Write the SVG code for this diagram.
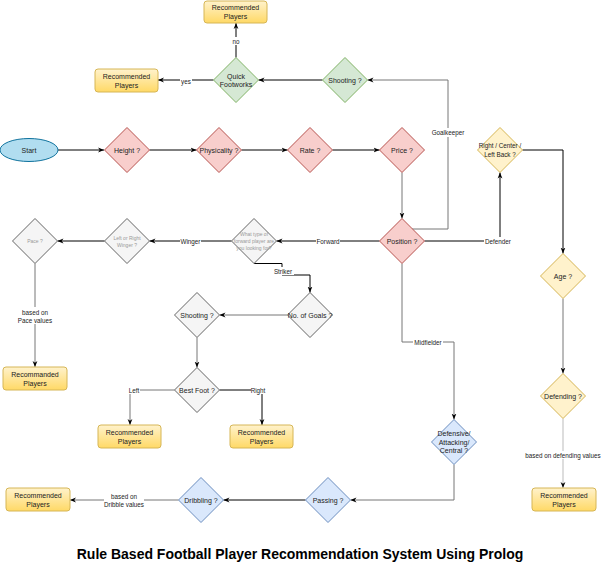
<svg xmlns="http://www.w3.org/2000/svg" width="602" height="572" viewBox="0 0 602 572">
<defs>
<linearGradient id="gy" x1="0" y1="0" x2="0" y2="1"><stop offset="0" stop-color="#fff2cc"/><stop offset="1" stop-color="#ffd966"/></linearGradient>
<marker id="ar" viewBox="0 0 10 10" refX="10" refY="5" markerWidth="6" markerHeight="6" markerUnits="userSpaceOnUse" orient="auto"><path d="M0,1 L10,5 L0,9 L3,5 z" fill="#000"/></marker>
<style>
text{font-family:"Liberation Sans",Arial,sans-serif;text-anchor:middle;dominant-baseline:central;fill:#222}
.n{font-size:7px}
.s{font-size:5px;fill:#999}
.l{font-size:6.3px}
.e{fill:none;stroke:#000;stroke-width:1;marker-end:url(#ar)}
.g{stroke:#777}
.lg{stroke:#bbb}
.red{fill:#f8cecc;stroke:#b85450}
.grn{fill:#d5e8d4;stroke:#82b366}
.yel{fill:#fff2cc;stroke:#d6b656}
.blu{fill:#dae8fc;stroke:#6c8ebf}
.gry{fill:#f5f5f5;stroke:#666}
.box{fill:url(#gy);stroke:#d6b656}
.bg{fill:#fff}
.t{font-size:14px;font-weight:bold;fill:#000;dominant-baseline:auto}
</style>
</defs>
<g id="connectors">
<path class="e" d="M58,150 L104,150"/>
<path class="e" d="M149.5,150 L196.5,150"/>
<path class="e" d="M241.5,150 L287.5,150"/>
<path class="e" d="M332.5,150 L379.5,150"/>
<path class="e g" d="M402,172.5 L402,218.5"/>
<path class="e g" d="M412,229 L448,229 L448,80 L367.5,80"/>
<path class="e" d="M322.5,80 L258.5,80"/>
<path class="e" d="M213.5,80 L158,80"/>
<path class="e" d="M236,57.5 L236,23"/>
<path class="e" d="M379.5,241 L276.5,241"/>
<path class="e" d="M231.5,241 L149.5,241"/>
<path class="e" d="M104.5,241 L57.5,241"/>
<path class="e g" d="M35,263.5 L35,367"/>
<path class="e" d="M254,263.5 L282,263.5 L282,275 L310,275 L310,292.5"/>
<path class="e g" d="M287.5,315 L219.5,315"/>
<path class="e g" d="M197,337.5 L197,367.5"/>
<path class="e g" d="M174.5,390 L130,390 L130,425"/>
<path class="e" d="M219.5,390 L262,390 L262,425"/>
<path class="e" d="M424.5,241 L500,241 L500,172.5"/>
<path class="e" d="M522.5,150 L563,150 L563,253.5"/>
<path class="e g" d="M563,298.5 L563,373.5"/>
<path class="e lg" d="M563,418.5 L563,488"/>
<path class="e g" d="M402,263.5 L402,342 L454,342 L454,419.5"/>
<path class="e g" d="M454,464.5 L454,500 L350.5,500"/>
<path class="e" d="M305.5,500 L223.5,500"/>
<path class="e g" d="M178.5,500 L70,500"/>
<rect class="bg" x="230" y="37" width="12" height="8"/><text class="l" x="236" y="41">no</text>
<rect class="bg" x="180" y="77" width="12" height="8"/><text class="l" x="186" y="81">yes</text>
<rect class="bg" x="432" y="128" width="32" height="9"/><text class="l" x="448" y="132.5">Goalkeeper</text>
<rect class="bg" x="484" y="237" width="28" height="8"/><text class="l" x="498" y="241">Defender</text>
<rect class="bg" x="316" y="237" width="24" height="8"/><text class="l" x="328" y="241">Forward</text>
<rect class="bg" x="180" y="237" width="21" height="8"/><text class="l" x="190.5" y="241">Winger</text>
<rect class="bg" x="273" y="267" width="21" height="8"/><text class="l" x="283" y="271">Striker</text>
<rect class="bg" x="413" y="338" width="30" height="8"/><text class="l" x="428" y="342">Midfielder</text>
<rect class="bg" x="525" y="451" width="76" height="8"/><text class="l" x="563" y="455">based on defending values</text>
<rect class="bg" x="104" y="491" width="40" height="17"/><text class="l" x="124" y="496">based on</text><text class="l" x="124" y="504">Dribble values</text>
<rect class="bg" x="17" y="307" width="36" height="17"/><text class="l" x="35" y="312">based on</text><text class="l" x="35" y="320">Pace values</text>
<rect class="bg" x="128" y="386" width="12" height="8"/><text class="l" x="134" y="390">Left</text>
<rect class="bg" x="251" y="386" width="15" height="8"/><text class="l" x="258" y="390">Right</text>
</g>
<g id="start"><ellipse cx="29" cy="150" rx="29" ry="11.5" fill="#b1ddf0" stroke="#10739e"/><text class="n" x="29" y="150">Start</text></g>
<g id="height"><path class="red" d="M127,127.5 L149.5,150 L127,172.5 L104.5,150 z"/><text class="n" x="127" y="150">Height ?</text></g>
<g id="physicality"><path class="red" d="M219,127.5 L241.5,150 L219,172.5 L196.5,150 z"/><text class="n" x="219" y="150">Physicality ?</text></g>
<g id="rate"><path class="red" d="M310,127.5 L332.5,150 L310,172.5 L287.5,150 z"/><text class="n" x="310" y="150">Rate ?</text></g>
<g id="price"><path class="red" d="M402,127.5 L424.5,150 L402,172.5 L379.5,150 z"/><text class="n" x="402" y="150">Price ?</text></g>
<g id="position"><path class="red" d="M402,218.5 L424.5,241 L402,263.5 L379.5,241 z"/><text class="n" x="402" y="241">Position ?</text></g>
<g id="shooting-gk"><path class="grn" d="M345,57.5 L367.5,80 L345,102.5 L322.5,80 z"/><text class="n" x="345" y="80">Shooting ?</text></g>
<g id="quick-footworks"><path class="grn" d="M236,57.5 L258.5,80 L236,102.5 L213.5,80 z"/><text class="n" x="236" y="76">Quick</text><text class="n" x="236" y="84.5">Footworks</text></g>
<g id="rec-no"><rect class="box" x="204" y="1" width="63" height="22" rx="3"/><text class="n" x="235.5" y="7.5">Recommended</text><text class="n" x="235.5" y="16">Players</text></g>
<g id="rec-yes"><rect class="box" x="95" y="69" width="63" height="23" rx="3"/><text class="n" x="126.5" y="76.5">Recommended</text><text class="n" x="126.5" y="85">Players</text></g>
<g id="back"><path class="yel" d="M500,127.5 L522.5,150 L500,172.5 L477.5,150 z"/><text class="l" x="500" y="145.5">Right / Center /</text><text class="l" x="500" y="154">Left Back ?</text></g>
<g id="age"><path class="yel" d="M563,253.5 L585.5,276 L563,298.5 L540.5,276 z"/><text class="n" x="563" y="276">Age ?</text></g>
<g id="defending"><path class="yel" d="M563,373.5 L585.5,396 L563,418.5 L540.5,396 z"/><text class="n" x="563" y="396">Defending ?</text></g>
<g id="rec-def"><rect class="box" x="532" y="488" width="64" height="23" rx="3"/><text class="n" x="564" y="495.5">Recommended</text><text class="n" x="564" y="504">Players</text></g>
<g id="mid-type"><path class="blu" d="M454,419.5 L476.5,442 L454,464.5 L431.5,442 z"/><text class="n" x="454" y="433.5">Defensive/</text><text class="n" x="454" y="442">Attacking/</text><text class="n" x="454" y="450.5">Central ?</text></g>
<g id="passing"><path class="blu" d="M328,477.5 L350.5,500 L328,522.5 L305.5,500 z"/><text class="n" x="328" y="500">Passing ?</text></g>
<g id="dribbling"><path class="blu" d="M201,477.5 L223.5,500 L201,522.5 L178.5,500 z"/><text class="n" x="201" y="500">Dribbling ?</text></g>
<g id="rec-drib"><rect class="box" x="6" y="488" width="64" height="23" rx="3"/><text class="n" x="38" y="495.5">Recommended</text><text class="n" x="38" y="504">Players</text></g>
<g id="forward-type"><path class="gry" d="M254,218.5 L276.5,241 L254,263.5 L231.5,241 z"/><text class="s" x="254" y="234">What type of</text><text class="s" x="254" y="241">forward player are</text><text class="s" x="254" y="248">you looking for?</text></g>
<g id="winger"><path class="gry" d="M127,218.5 L149.5,241 L127,263.5 L104.5,241 z"/><text class="s" x="127" y="237.5">Left or Right</text><text class="s" x="127" y="245">Winger ?</text></g>
<g id="pace"><path class="gry" d="M35,218.5 L57.5,241 L35,263.5 L12.5,241 z"/><text class="s" x="35" y="241">Pace ?</text></g>
<g id="rec-pace"><rect class="box" x="3" y="367" width="64" height="23" rx="3"/><text class="n" x="35" y="374.5">Recommanded</text><text class="n" x="35" y="383">Players</text></g>
<g id="goals"><path class="gry" d="M310,292.5 L332.5,315 L310,337.5 L287.5,315 z"/><text class="n" x="310" y="315">No. of Goals ?</text></g>
<g id="shooting-st"><path class="gry" d="M197,292.5 L219.5,315 L197,337.5 L174.5,315 z"/><text class="n" x="197" y="315">Shooting ?</text></g>
<g id="best-foot"><path class="gry" d="M197,367.5 L219.5,390 L197,412.5 L174.5,390 z"/><text class="n" x="197" y="390">Best Foot ?</text></g>
<g id="rec-left"><rect class="box" x="98" y="425" width="63" height="23" rx="3"/><text class="n" x="129.5" y="432.5">Recommended</text><text class="n" x="129.5" y="441">Players</text></g>
<g id="rec-right"><rect class="box" x="230" y="425" width="63" height="23" rx="3"/><text class="n" x="261.5" y="432.5">Recommended</text><text class="n" x="261.5" y="441">Players</text></g>
<text class="t" x="300" y="559">Rule Based Football Player Recommendation System Using Prolog</text>
</svg>
